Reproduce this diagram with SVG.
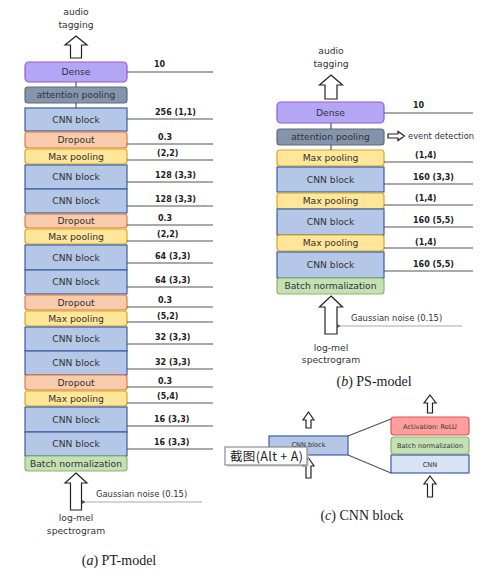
<svg xmlns="http://www.w3.org/2000/svg" width="503" height="580" viewBox="0 0 503 580">
<style>
.cnn{fill:#b4c7e7;stroke:#3b5ea6;stroke-width:1.2}
.drop{fill:#f8cbad;stroke:#e0793a;stroke-width:1.2}
.maxp{fill:#ffe699;stroke:#d9a520;stroke-width:1.2}
.bn{fill:#c5e0b4;stroke:#85b96b;stroke-width:1.2}
.dense{fill:#b2a6f5;stroke:#9b55cf;stroke-width:1.2}
.attn{fill:#8495ab;stroke:#5d6c80;stroke-width:1.2}
.act{fill:#ff9e9e;stroke:#e05555;stroke-width:1.2}
.cnnl{fill:#dae3f3;stroke:#3b5ea6;stroke-width:1.2}
.lbl{font-family:"DejaVu Sans",sans-serif;font-size:9.2px;fill:#333;text-anchor:middle}
.sm{font-family:"DejaVu Sans",sans-serif;font-size:6.6px;fill:#333;text-anchor:middle}
.num{font-family:"DejaVu Sans",sans-serif;font-weight:bold;font-size:8px;fill:#222}
.gn{font-family:"DejaVu Sans",sans-serif;font-size:8.4px;fill:#333}
.ln{stroke:#555;stroke-width:1.2;fill:none}
.gl{stroke:#aaa;stroke-width:1.2;fill:none}
.harrow{fill:#fff;stroke:#222;stroke-width:1.2}
.cap{font-family:"Liberation Serif",serif;font-size:14px;fill:#222;text-anchor:middle}
</style>
<defs>
<marker id="sa" markerWidth="6" markerHeight="6" refX="1" refY="3" orient="auto" markerUnits="userSpaceOnUse">
<path d="M5,1 L1,3 L5,5 Z" fill="#555"/>
</marker>
</defs>

<!-- (a) PT-model -->
<g id="pt-audio-tagging">
<text class="lbl" x="76" y="15">audio</text>
<text class="lbl" x="76" y="28">tagging</text>
<path class="harrow" d="M76,36 L87,45 H81.5 V58 H70.5 V45 H65 Z"/>
</g>
<g id="pt-dense"><rect class="dense" x="25" y="62" width="102" height="20" rx="4"/><text class="lbl" x="76" y="75.3">Dense</text></g>
<g id="pt-attn"><rect class="attn" x="25" y="87" width="102" height="16" rx="3"/><text class="lbl" x="76" y="98.3">attention pooling</text></g>
<g id="pt-cnn1"><rect class="cnn" x="25" y="108" width="102" height="23"/><text class="lbl" x="76" y="122.8">CNN block</text></g>
<g id="pt-drop1"><rect class="drop" x="25" y="132" width="102" height="16" rx="3"/><text class="lbl" x="76" y="143.3">Dropout</text></g>
<g id="pt-max1"><rect class="maxp" x="25" y="149" width="102" height="15" rx="3"/><text class="lbl" x="76" y="159.8">Max pooling</text></g>
<g id="pt-cnn2"><rect class="cnn" x="25" y="165" width="102" height="24"/><text class="lbl" x="76" y="180.3">CNN block</text></g>
<g id="pt-cnn3"><rect class="cnn" x="25" y="189" width="102" height="24"/><text class="lbl" x="76" y="204.3">CNN block</text></g>
<g id="pt-drop2"><rect class="drop" x="25" y="214" width="102" height="14" rx="3"/><text class="lbl" x="76" y="224.3">Dropout</text></g>
<g id="pt-max2"><rect class="maxp" x="25" y="229" width="102" height="15" rx="3"/><text class="lbl" x="76" y="239.8">Max pooling</text></g>
<g id="pt-cnn4"><rect class="cnn" x="25" y="245" width="102" height="25"/><text class="lbl" x="76" y="260.8">CNN block</text></g>
<g id="pt-cnn5"><rect class="cnn" x="25" y="270" width="102" height="24"/><text class="lbl" x="76" y="285.3">CNN block</text></g>
<g id="pt-drop3"><rect class="drop" x="25" y="295" width="102" height="15" rx="3"/><text class="lbl" x="76" y="305.8">Dropout</text></g>
<g id="pt-max3"><rect class="maxp" x="25" y="311" width="102" height="15" rx="3"/><text class="lbl" x="76" y="321.8">Max pooling</text></g>
<g id="pt-cnn6"><rect class="cnn" x="25" y="327" width="102" height="24"/><text class="lbl" x="76" y="342.3">CNN block</text></g>
<g id="pt-cnn7"><rect class="cnn" x="25" y="351" width="102" height="24"/><text class="lbl" x="76" y="366.3">CNN block</text></g>
<g id="pt-drop4"><rect class="drop" x="25" y="375" width="102" height="15" rx="3"/><text class="lbl" x="76" y="385.8">Dropout</text></g>
<g id="pt-max4"><rect class="maxp" x="25" y="391" width="102" height="15" rx="3"/><text class="lbl" x="76" y="401.8">Max pooling</text></g>
<g id="pt-cnn8"><rect class="cnn" x="25" y="407" width="102" height="25"/><text class="lbl" x="76" y="422.8">CNN block</text></g>
<g id="pt-cnn9"><rect class="cnn" x="25" y="432" width="102" height="24"/><text class="lbl" x="76" y="447.3">CNN block</text></g>
<g id="pt-bn"><rect class="bn" x="25" y="456" width="102" height="15" rx="3"/><text class="lbl" x="76" y="466.8">Batch normalization</text></g>
<g id="pt-input">
<path class="harrow" d="M76,473 L87,483 H81.5 V510 H70.5 V483 H65 Z"/>
<text class="lbl" x="76" y="521">log-mel</text>
<text class="lbl" x="76" y="534">spectrogram</text>
</g>
<g id="pt-labels">
<text class="num" x="154" y="67">10</text>
<text class="num" x="155" y="115">256 (1,1)</text>
<text class="num" x="158" y="140">0.3</text>
<text class="num" x="157" y="156">(2,2)</text>
<text class="num" x="155" y="178">128 (3,3)</text>
<text class="num" x="155" y="202">128 (3,3)</text>
<text class="num" x="158" y="221">0.3</text>
<text class="num" x="157" y="237">(2,2)</text>
<text class="num" x="155" y="259">64 (3,3)</text>
<text class="num" x="155" y="283">64 (3,3)</text>
<text class="num" x="158" y="303">0.3</text>
<text class="num" x="157" y="319">(5,2)</text>
<text class="num" x="155" y="340">32 (3,3)</text>
<text class="num" x="155" y="365">32 (3,3)</text>
<text class="num" x="158" y="384">0.3</text>
<text class="num" x="157" y="399">(5,4)</text>
<text class="num" x="154" y="422">16 (3,3)</text>
<text class="num" x="154" y="445">16 (3,3)</text>
<text class="gn" x="96" y="497">Gaussian noise (0.15)</text>
</g>
<text class="cap" x="119" y="565"><tspan>(</tspan><tspan font-style="italic">a</tspan><tspan>) PT-model</tspan></text>

<!-- (b) PS-model -->
<g id="ps-audio-tagging">
<text class="lbl" x="331" y="54">audio</text>
<text class="lbl" x="331" y="67">tagging</text>
<path class="harrow" d="M331,75 L342.5,85 H337 V99 H325 V85 H319.5 Z"/>
</g>
<g id="ps-dense"><rect class="dense" x="277" y="102" width="107" height="21" rx="4"/><text class="lbl" x="330.5" y="115.8">Dense</text></g>
<g id="ps-attn"><rect class="attn" x="277" y="129" width="107" height="16" rx="3"/><text class="lbl" x="330.5" y="140.3">attention pooling</text></g>
<g id="ps-event">
<path class="harrow" d="M388,134 H398 V131.5 L404.5,136 L398,140.5 V138 H388 Z" stroke-width="1"/>
<text class="gn" x="408" y="139" font-size="9.2px">event detection</text>
</g>
<g id="ps-max1"><rect class="maxp" x="277" y="150" width="107" height="16" rx="3"/><text class="lbl" x="330.5" y="161.3">Max pooling</text></g>
<g id="ps-cnn1"><rect class="cnn" x="277" y="167" width="107" height="25"/><text class="lbl" x="330.5" y="182.8">CNN block</text></g>
<g id="ps-max2"><rect class="maxp" x="277" y="193" width="107" height="16" rx="3"/><text class="lbl" x="330.5" y="204.3">Max pooling</text></g>
<g id="ps-cnn2"><rect class="cnn" x="277" y="209" width="107" height="26"/><text class="lbl" x="330.5" y="225.3">CNN block</text></g>
<g id="ps-max3"><rect class="maxp" x="277" y="235" width="107" height="16" rx="3"/><text class="lbl" x="330.5" y="246.3">Max pooling</text></g>
<g id="ps-cnn3"><rect class="cnn" x="277" y="252" width="107" height="26"/><text class="lbl" x="330.5" y="268.3">CNN block</text></g>
<g id="ps-bn"><rect class="bn" x="277" y="278" width="107" height="16" rx="3"/><text class="lbl" x="330.5" y="289.3">Batch normalization</text></g>
<g id="ps-input">
<path class="harrow" d="M331,296 L342.5,307 H337 V334 H325 V307 H319.5 Z"/>
<text class="lbl" x="331" y="351">log-mel</text>
<text class="lbl" x="331" y="363">spectrogram</text>
</g>
<g id="ps-labels">
<text class="num" x="413" y="108">10</text>
<text class="num" x="415" y="158">(1,4)</text>
<text class="num" x="413" y="180">160 (3,3)</text>
<text class="num" x="415" y="201">(1,4)</text>
<text class="num" x="413" y="223">160 (5,5)</text>
<text class="num" x="415" y="245">(1,4)</text>
<text class="num" x="413" y="267">160 (5,5)</text>
<text class="gn" x="351" y="321">Gaussian noise (0.15)</text>
</g>
<text class="cap" x="374" y="386"><tspan>(</tspan><tspan font-style="italic">b</tspan><tspan>) PS-model</tspan></text>

<!-- (c) CNN block -->
<g id="c-block"><rect class="cnn" x="269" y="436" width="79" height="19"/><text class="sm" x="308.5" y="447">CNN block</text></g>
<g id="c-act"><rect class="act" x="391" y="417" width="78" height="18" rx="3"/><text class="sm" x="430" y="428.5">Activation: ReLU</text></g>
<g id="c-bn"><rect class="bn" x="391" y="437" width="78" height="17" rx="3"/><text class="sm" x="430" y="448">Batch normalization</text></g>
<g id="c-cnn"><rect class="cnnl" x="391" y="455" width="78" height="18"/><text class="sm" x="430" y="466.5">CNN</text></g>
<g id="c-arrows">
<path class="harrow" d="M308.5,412 L314,420 H311 V428 H306 V420 H303 Z"/>
<path class="harrow" d="M308.5,458 L314,466 H311 V478 H306 V466 H303 Z"/>
<path class="harrow" d="M430,395 L436,403 H432.5 V413 H427.5 V403 H424 Z"/>
<path class="harrow" d="M430,476 L436,484 H432.5 V497 H427.5 V484 H424 Z"/>
</g>
<text class="cap" x="362" y="520"><tspan>(</tspan><tspan font-style="italic">c</tspan><tspan>) CNN block</tspan></text>

<!-- connectors -->
<g id="connectors">
<line class="ln" x1="76" y1="82" x2="76" y2="87"/>
<line class="ln" x1="76" y1="103" x2="76" y2="108"/>
<line class="ln" x1="127" y1="72" x2="213" y2="72"/>
<line class="ln" x1="127" y1="119" x2="213" y2="119"/>
<line class="ln" x1="127" y1="144" x2="213" y2="144"/>
<line class="ln" x1="127" y1="160" x2="213" y2="160"/>
<line class="ln" x1="127" y1="182" x2="213" y2="182"/>
<line class="ln" x1="127" y1="206" x2="213" y2="206"/>
<line class="ln" x1="127" y1="225" x2="213" y2="225"/>
<line class="ln" x1="127" y1="241" x2="213" y2="241"/>
<line class="ln" x1="127" y1="263" x2="213" y2="263"/>
<line class="ln" x1="127" y1="287" x2="213" y2="287"/>
<line class="ln" x1="127" y1="307" x2="213" y2="307"/>
<line class="ln" x1="127" y1="322" x2="213" y2="322"/>
<line class="ln" x1="127" y1="344" x2="213" y2="344"/>
<line class="ln" x1="127" y1="369" x2="213" y2="369"/>
<line class="ln" x1="127" y1="387" x2="213" y2="387"/>
<line class="ln" x1="127" y1="403" x2="213" y2="403"/>
<line class="ln" x1="127" y1="426" x2="213" y2="426"/>
<line class="ln" x1="127" y1="449" x2="213" y2="449"/>
<line class="gl" x1="202" y1="502" x2="86" y2="502" marker-end="url(#sa)"/>
<line class="ln" x1="331" y1="123" x2="331" y2="129"/>
<line class="ln" x1="331" y1="145" x2="331" y2="150"/>
<line class="ln" x1="384" y1="113" x2="473" y2="113"/>
<line class="ln" x1="384" y1="162" x2="473" y2="162"/>
<line class="ln" x1="384" y1="184" x2="473" y2="184"/>
<line class="ln" x1="384" y1="205" x2="473" y2="205"/>
<line class="ln" x1="384" y1="227" x2="473" y2="227"/>
<line class="ln" x1="384" y1="248" x2="473" y2="248"/>
<line class="ln" x1="384" y1="271" x2="473" y2="271"/>
<line class="gl" x1="462" y1="326" x2="341" y2="326" marker-end="url(#sa)"/>
<line class="ln" x1="348" y1="436" x2="391" y2="419"/>
<line class="ln" x1="348" y1="455" x2="391" y2="473"/>
</g>

<!-- screenshot tooltip overlay -->
<g id="tooltip">
<rect x="227" y="449" width="82" height="18" fill="#c8c8c8" opacity="0.6"/>
<rect x="225" y="447" width="82" height="18" fill="#fff" stroke="#777" stroke-width="1"/>
<text x="230" y="460.5" font-family="'Noto Sans CJK SC',sans-serif" font-size="12.5px" fill="#222" textLength="73" lengthAdjust="spacing">截图(Alt + A)</text>
</g>
</svg>
